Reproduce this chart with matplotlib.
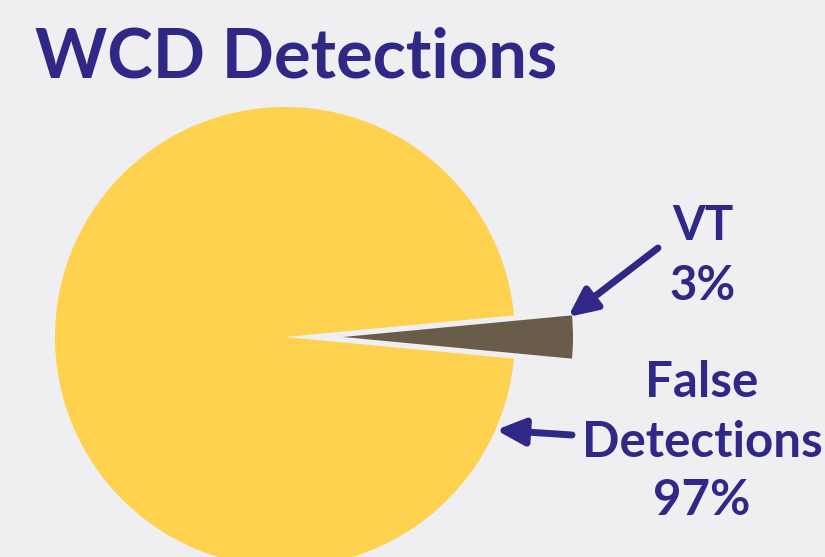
from matplotlib import pyplot as plt
from matplotlib.patches import FancyArrowPatch

# data
labels = ["VT", "False\nDetections"]
values = [3, 97]
colors = ["#695c48", "#fed24e"]

purple = "#302887"
bg = "#efeff1"

plt.rcParams['font.family'] = ['Lato', 'DejaVu Sans']
weight = 'bold'

fig = plt.figure(figsize=(8.25, 5.57), dpi=100, facecolor=bg)
ax = fig.add_axes([0, 0, 1, 1])
ax.set_facecolor(bg)

# pie, pixel-like data coords (y up); explode is in data units here
ax.pie(values, colors=colors, startangle=-values[0] / 100 * 360 / 2,
       explode=[58, 0], center=(285, 220), radius=230, frame=True,
       wedgeprops=dict(linewidth=0))
ax.set_xlim(0, 825)
ax.set_ylim(0, 557)
ax.set_aspect('equal')
ax.axis('off')

# labels, one line per text so the baselines sit where they should
vt_lines = labels[0].split("\n") + ["%d%%" % values[0]]
for line, yb in zip(vt_lines, [317, 257]):
    ax.text(703, yb, line, ha='center', va='baseline',
            fontsize=34, fontweight=weight, color=purple)
fd_lines = labels[1].split("\n") + ["%d%%" % values[1]]
for line, yb in zip(fd_lines, [160, 100, 42]):
    ax.text(702, yb, line, ha='center', va='baseline',
            fontsize=35.5, fontweight=weight, color=purple)

# arrows
for tail, head in [((658, 309), (568, 240)), ((572, 122), (496, 127))]:
    arr = FancyArrowPatch(tail, head, arrowstyle='-|>,head_length=17,head_width=8',
                          color=purple, linewidth=5, capstyle='round',
                          shrinkA=0, shrinkB=0)
    ax.add_patch(arr)

# title
fig.text(35 / 825, 1 - 78 / 557, "WCD Detections", ha='left', va='baseline',
         fontsize=49.5, fontweight=weight, color=purple)

fig.savefig("out.png", dpi=100, facecolor=bg)
